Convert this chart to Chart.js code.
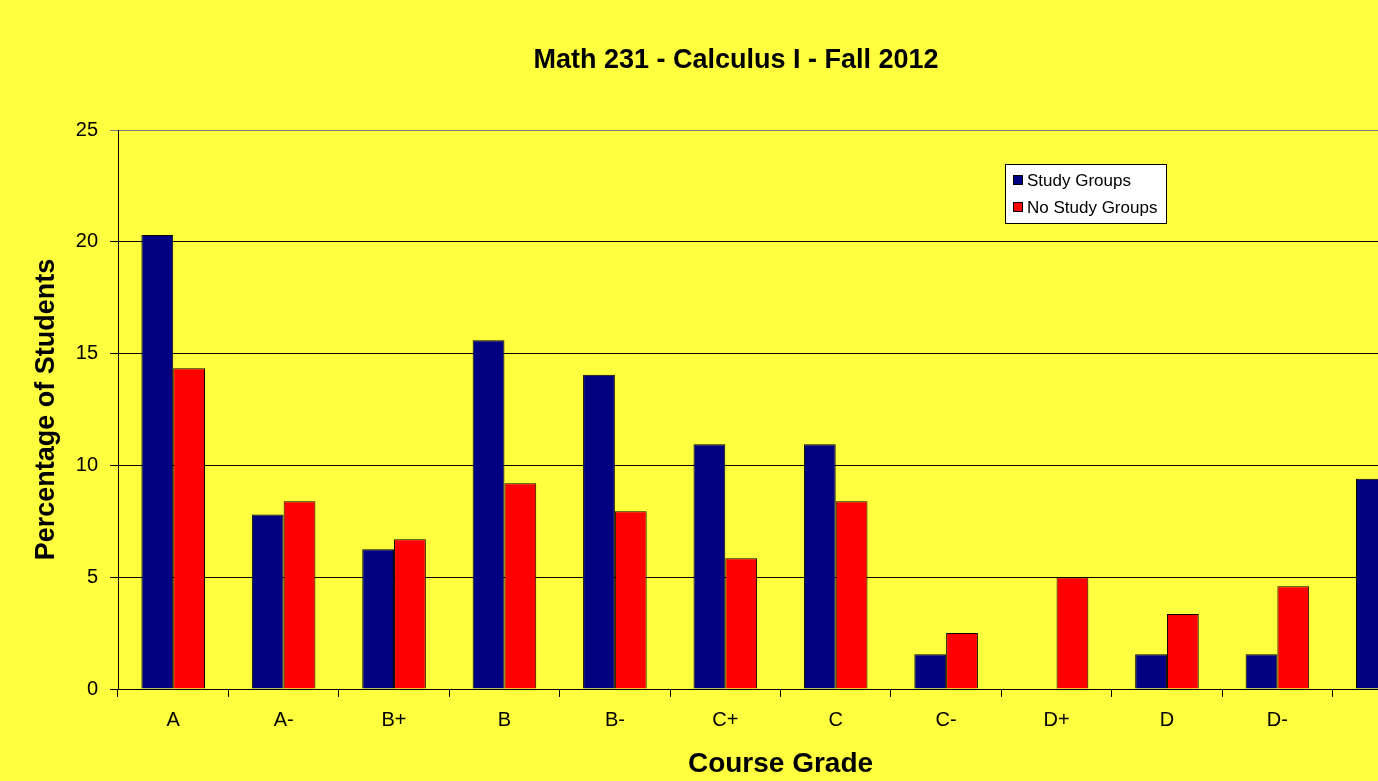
<!DOCTYPE html>
<html>
<head>
<meta charset="utf-8">
<script src="https://cdn.jsdelivr.net/npm/chart.js@4"></script>
<style>
  html, body { margin: 0; padding: 0; overflow: hidden; background: #ffff40; width: 1378px; height: 781px; }
  #wrap { position: absolute; left: 0; top: 0; width: 1470px; height: 781px; }
  canvas { display: block; }
</style>
</head>
<body>
<div id="wrap"><canvas id="c" width="1470" height="781"></canvas></div>
<script>
const categories = ['A', 'A-', 'B+', 'B', 'B-', 'C+', 'C', 'C-', 'D+', 'D', 'D-', 'F'];
const studyGroups = [20.3, 7.8, 6.25, 15.6, 14.05, 10.95, 10.95, 1.55, 0, 1.55, 1.55, 9.4];
const noStudyGroups = [14.35, 8.4, 6.7, 9.2, 7.95, 5.85, 8.4, 2.5, 5.0, 3.35, 4.6, 23.8];
const yTicks = [0, 5, 10, 15, 20, 25];
const seriesNames = ['Study Groups', 'No Study Groups'];
const seriesColors = ['#000080', '#ff0000'];
const chartTitle = 'Math 231 - Calculus I - Fall 2012';

const FONT = '"Liberation Sans", Arial, sans-serif';
Chart.defaults.font.family = FONT;
Chart.defaults.color = '#000';

const bgPlugin = {
  id: 'bg',
  beforeDraw(chart) {
    const ctx = chart.ctx;
    ctx.save();
    ctx.fillStyle = '#ffff40';
    ctx.fillRect(0, 0, chart.width, chart.height);
    ctx.restore();
  }
};

const titlePlugin = {
  id: 'customTitle',
  afterDraw(chart) {
    const ctx = chart.ctx;
    ctx.save();
    ctx.font = 'bold 27px ' + FONT;
    ctx.fillStyle = '#000';
    ctx.textAlign = 'center';
    ctx.textBaseline = 'alphabetic';
    ctx.fillText(chartTitle, 736, 68);
    ctx.restore();
  }
};

const legendPlugin = {
  id: 'customLegend',
  afterDraw(chart) {
    const ctx = chart.ctx;
    ctx.save();
    const x = 1005.5, y = 164.5, w = 161, h = 59;
    ctx.fillStyle = '#ffffff';
    ctx.fillRect(x, y, w, h);
    ctx.strokeStyle = '#000';
    ctx.lineWidth = 1;
    ctx.strokeRect(x, y, w, h);
    ctx.font = '17px ' + FONT;
    ctx.textBaseline = 'middle';
    chart.data.datasets.forEach((ds, i) => {
      const cy = 180 + i * 27;
      ctx.fillStyle = ds.backgroundColor;
      ctx.fillRect(1013, cy - 5, 10, 10);
      ctx.strokeStyle = '#000';
      ctx.strokeRect(1013.5, cy - 4.5, 9, 9);
      ctx.fillStyle = '#000';
      ctx.fillText(ds.label, 1027, cy + 1);
    });
    ctx.restore();
  }
};

new Chart(document.getElementById('c'), {
  type: 'bar',
  data: {
    labels: categories,
    datasets: [
      { label: seriesNames[0], data: studyGroups, backgroundColor: seriesColors[0], borderColor: '#000', borderWidth: 1 },
      { label: seriesNames[1], data: noStudyGroups, backgroundColor: seriesColors[1], borderColor: '#000', borderWidth: 1 }
    ]
  },
  options: {
    responsive: false,
    animation: false,
    devicePixelRatio: 1,
    layout: { padding: { top: 130, left: 0, right: 27, bottom: 0 } },
    datasets: { bar: { categoryPercentage: 0.576, barPercentage: 1.0 } },
    plugins: {
      legend: { display: false },
      tooltip: { enabled: false },
      title: { display: false }
    },
    scales: {
      x: {
        grid: { display: true, drawOnChartArea: false, drawTicks: true, tickLength: 8, color: '#000', offset: true },
        border: { display: true, color: '#000', width: 1 },
        ticks: { font: { size: 20 }, color: '#000', padding: 11, maxRotation: 0 },
        title: { display: true, text: 'Course Grade', font: { size: 28, weight: 'bold' }, color: '#000', padding: { top: 0, bottom: 0 } },
        afterFit(scale) { scale.height = 92; }
      },
      y: {
        min: 0,
        max: 25,
        afterBuildTicks(scale) { scale.ticks = yTicks.map(v => ({ value: v })); },
        grid: {
          display: true,
          drawTicks: true,
          tickLength: 8,
          color: ctx => (ctx.tick && ctx.tick.value === 25 ? '#808080' : '#000'),
          lineWidth: 1
        },
        border: { display: true, color: '#000', width: 1 },
        ticks: { font: { size: 20 }, color: '#000', padding: 12 },
        title: { display: true, text: 'Percentage of Students', font: { size: 27, weight: 'bold' }, color: '#000', padding: { top: 30, bottom: 0 } },
        afterFit(scale) { scale.width = 118; }
      }
    }
  },
  plugins: [bgPlugin, titlePlugin, legendPlugin]
});
</script>
</body>
</html>
